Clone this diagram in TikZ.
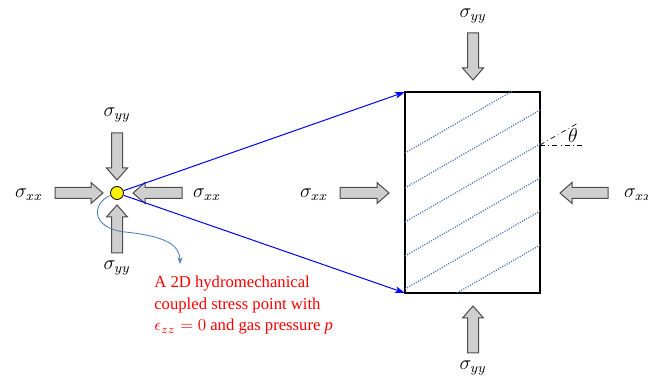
\documentclass[tikz,border=0pt]{standalone}
\usepackage{fontspec}
\setmainfont{Liberation Serif}
\usetikzlibrary{calc,arrows.meta}

\definecolor{hatchblue}{RGB}{68,114,196}
\definecolor{noteblue}{RGB}{74,126,187}

% block arrow from tail #1 to tip #2
\newcommand{\forcearrow}[2]{%
  \coordinate (fh) at ($(#2)!7.2pt!(#1)$);
  \draw[force arrow] ($(#1)!3.3pt!90:(#2)$) -- ($(fh)!3.3pt!90:(#2)$) -- ($(fh)!6.3pt!90:(#2)$) -- (#2)
    -- ($(fh)!6.3pt!-90:(#2)$) -- ($(fh)!3.3pt!-90:(#2)$) -- ($(#1)!3.3pt!-90:(#2)$) -- cycle;}

\begin{document}
\begin{tikzpicture}[
    x=0.6pt, y=-0.6pt,
    force arrow/.style={fill=gray!38, draw=black!70, line width=0.6pt, line join=miter},
    stress label/.style={font=\fontsize{12}{14}\selectfont, inner sep=0pt},
    stress point/.style={circle, draw=black, fill=yellow, line width=0.5pt, minimum size=7.8pt, inner sep=0pt},
    sample box/.style={draw=black, line width=0.8pt, minimum width=81pt, minimum height=120.6pt, inner sep=0pt, outer sep=0pt},
    zoom line/.style={draw=blue, line width=0.6pt, -{Stealth[length=6pt, width=4pt, inset=1.5pt]}},
    hatch line/.style={draw=hatchblue, line width=0.8pt, dash pattern=on 0.6pt off 0.9pt},
    angle ref/.style={draw=black, line width=0.4pt, dash dot},
    note/.style={font=\fontsize{10}{12.9}\selectfont, text=red, align=left, inner sep=0pt, anchor=north west}
]
\useasboundingbox (0,0) rectangle (648,383);

% stress point and specimen
\node[stress point] (P) at (117,193) {};
\node[sample box] (box) at (472.5,192.5) {};

% weak planes
\begin{scope}
  \clip (box.north west) rectangle (box.south east);
  \foreach \c in {153,188,222,256,289,323}
    \draw[hatch line] (405,\c) -- +(160,-92.4);
\end{scope}

% inclination angle
\coordinate (theta o) at (540,145);
\coordinate (theta h) at (585,145);
\coordinate (theta s) at (577,123.6);
\draw[angle ref] (theta o) -- (theta h);
\draw[angle ref] (theta o) -- (theta s);
\node[stress label] (theta lbl) at (573,136) {$\theta$};

% loading arrows
\foreach \n/\ax/\ay/\bx/\by in {pN/117/133/117/180, pS/117/253/117/205, pW/55/193/103/193, pE/182/193/133/193,
    bN/473/33/473/80, bS/473/353/473/306, bW/340/193/389/193, bE/608/193/560/193}{
  \coordinate (\n tail) at (\ax,\ay);
  \coordinate (\n tip) at (\bx,\by);
  \forcearrow{\n tail}{\n tip}
}

\node[stress label] (pN lbl) at (117,115) {$\sigma_{yy}$};
\node[stress label] (pS lbl) at (117,268) {$\sigma_{yy}$};
\node[stress label] (pW lbl) at (29,195) {$\sigma_{xx}$};
\node[stress label] (pE lbl) at (207,195) {$\sigma_{xx}$};
\node[stress label] (bN lbl) at (473,16) {$\sigma_{yy}$};
\node[stress label] (bS lbl) at (473,368) {$\sigma_{yy}$};
\node[stress label] (bW lbl) at (314,195) {$\sigma_{xx}$};
\node[stress label] (bE lbl) at (638,195) {$\sigma_{xx}$};

% zoom lines
\draw[zoom line] (P) -- (box.north west);
\draw[zoom line] (P) -- (box.south west);

% annotation
\coordinate (bend) at (125,232);
\coordinate (note tip) at (180,264);
\draw[noteblue, line width=0.5pt, -{Stealth[length=4pt, width=3pt]}]
  (P.200) .. controls (92,203) and (90,228) .. (bend) .. controls (165,236) and (180,245) .. (note tip);
\node[note] (note) at (154,276) {A 2D hydromechanical\\coupled stress point with\\$\epsilon_{zz} = 0$ and gas pressure \textit{p}};

\end{tikzpicture}
\end{document}
